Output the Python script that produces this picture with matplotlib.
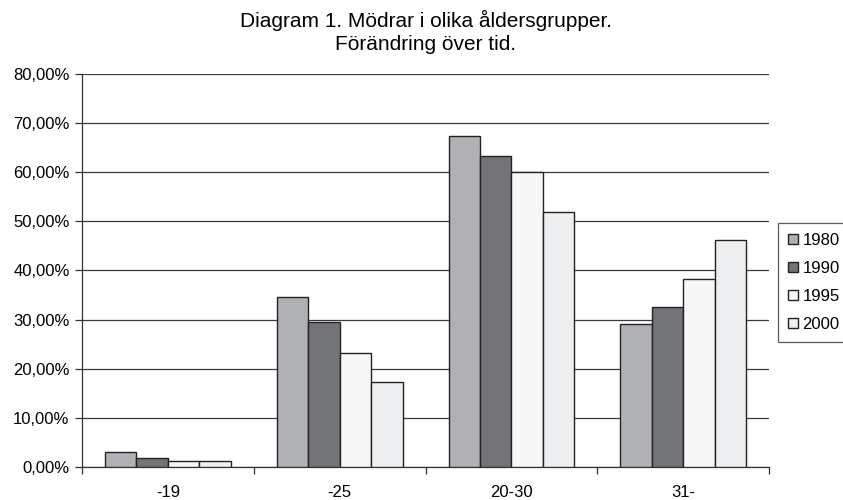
import matplotlib
matplotlib.use("Agg")
import matplotlib.pyplot as plt
import numpy as np
from matplotlib.ticker import FuncFormatter, FixedLocator

plt.rcParams['font.family'] = ['Liberation Sans', 'DejaVu Sans']

categories = ["-19", "-25", "20-30", "31-"]
years = ["1980", "1990", "1995", "2000"]
v1980 = [3.0, 34.7, 67.4, 29.1]
v1990 = [1.8, 29.6, 63.3, 32.6]
v1995 = [1.2, 23.2, 60.0, 38.2]
v2000 = [1.2, 17.4, 52.0, 46.2]
series = [v1980, v1990, v1995, v2000]
colors = ["#b0b1b5", "#737478", "#f7f7f7", "#eeeff1"]

fig = plt.figure(figsize=(8.43, 5.0), dpi=100)
ax = fig.add_axes([0.0973, 0.066, 0.815, 0.786])

x = np.arange(len(categories))
bw = 0.183
for i, (vals, c, y) in enumerate(zip(series, colors, years)):
    ax.bar(x + (i - 1.5) * bw, vals, bw, color=c, edgecolor="#222222",
           linewidth=1.0, label=y, zorder=3)

ax.set_xlim(-0.5, 3.5)
ax.set_ylim(0, 80)
ax.set_yticks(np.arange(0, 81, 10))
ax.yaxis.set_major_formatter(FuncFormatter(lambda v, p: f"{v:.2f}".replace(".", ",") + "%"))
ax.grid(axis="y", color="#3a3a3a", linewidth=0.9, zorder=0)
ax.set_xticks(x)
ax.set_xticklabels(categories)
ax.xaxis.set_minor_locator(FixedLocator([-0.5, 0.5, 1.5, 2.5, 3.5]))
ax.tick_params(axis="x", which="major", length=0, labelsize=12, pad=13)
ax.tick_params(axis="x", which="minor", length=5, width=0.9, color="#333333")
ax.tick_params(axis="y", length=5, width=0.9, labelsize=12, color="#333333", pad=4)
for s in ["top", "right"]:
    ax.spines[s].set_visible(False)
for s in ["left", "bottom"]:
    ax.spines[s].set_color("#333333")
    ax.spines[s].set_linewidth(0.9)

fig.text(0.505, 0.936, "Diagram 1. Mödrar i olika åldersgrupper.\nFörändring över tid.",
         ha="center", va="center", fontsize=15, linespacing=1.25)

leg = fig.legend(loc="upper left", bbox_to_anchor=(0.923, 0.554), frameon=True,
                 fancybox=False, edgecolor="#333333", fontsize=12,
                 handlelength=0.6, handleheight=0.6, handletextpad=0.25,
                 labelspacing=0.78, borderpad=0.6, borderaxespad=0)
leg.get_frame().set_linewidth(0.9)

fig.savefig("out.png", dpi=100)
